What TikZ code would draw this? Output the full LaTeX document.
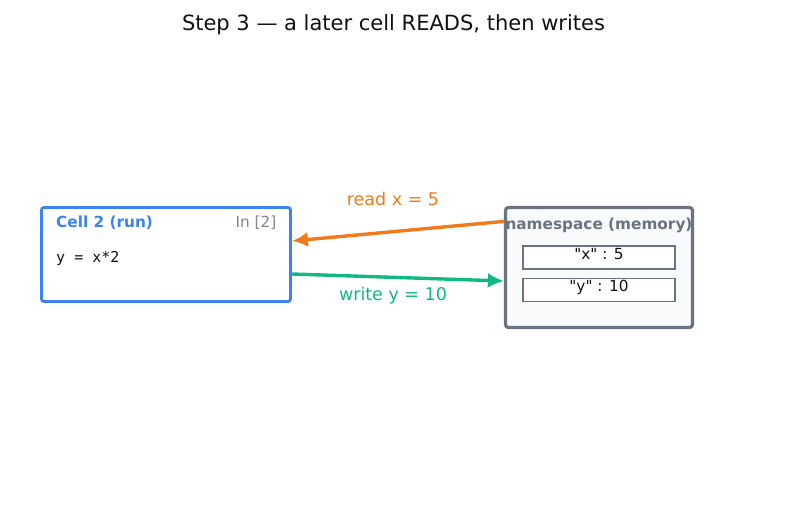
\documentclass[tikz,border=0pt]{standalone}
\usepackage{fontspec}
\setmainfont{DejaVu Sans}
\newfontfamily\codefont{DejaVu Sans Mono}
\newfontfamily\keyfont{DejaVu Sans}
\usetikzlibrary{arrows.meta,positioning,calc}
\definecolor{cellblue}{HTML}{3B82F6}
\definecolor{nsgray}{HTML}{6B7280}
\definecolor{nsfill}{HTML}{F8FAFC}
\definecolor{readorange}{HTML}{F27A1C}
\definecolor{writegreen}{HTML}{10B981}
\definecolor{titleblack}{HTML}{111111}

\begin{document}
\begin{tikzpicture}[x=1pt,y=-1pt,>=Latex,
  cellbox/.style={rounded corners=2.5pt,draw=cellblue,line width=2.8pt,fill=white,
    minimum width=249pt,minimum height=94pt,inner sep=0pt},
  nsbox/.style={rounded corners=3pt,draw=nsgray,line width=3.2pt,fill=nsfill,
    minimum width=187pt,minimum height=120pt,inner sep=0pt},
  slot/.style={draw=nsgray,line width=1.4pt,fill=white,
    minimum width=152pt,minimum height=23pt,inner sep=0pt},
  txt/.style={inner sep=0pt,font=\fontsize{15.3}{18}\selectfont},
  flow/.style={-{Latex[length=16pt,width=15pt]},line width=3.4pt}]
\useasboundingbox (0,0) rectangle (787,508);

% title
\node[txt,font=\fontsize{21}{24}\selectfont,text=titleblack] (title) at (393.5,25) {Step 3 — a later cell READS, then writes};

% the cell
\node[cellbox] (cell) at (166,254.5) {};
\node[txt,anchor=west,text=cellblue,font=\fontsize{15.3}{18}\selectfont\bfseries] (celltitle) at (56,222.5) {Cell 2 (run)};
\node[txt,anchor=east,text=nsgray!85!white] (cellin) at (276.5,222.5) {In [2]};
\node[txt,anchor=west,text=titleblack,font=\fontsize{15}{18}\codefont] (cellcode) at (56,258) {y = x*2};

% the namespace
\node[nsbox] (ns) at (599,267.5) {};
\node[txt,text=nsgray,font=\fontsize{15.3}{18}\selectfont\bfseries] (nstitle) at (599,225.5) {namespace (memory)};
\node[slot] (nsx) at (599,257.5) {};
\node[slot] (nsy) at (599,290) {};
\node[txt,text=titleblack,font=\fontsize{15.3}{18}\keyfont] (nsxtext) at (599,254.5) {"x" : 5};
\node[txt,text=titleblack,font=\fontsize{15.3}{18}\keyfont] (nsytext) at (599,287.5) {"y" : 10};

% read and write
\draw[flow,readorange] ([yshift=-15.5pt]ns.north west) -- ([yshift=13.5pt]cell.east);
\draw[flow,writegreen] ([yshift=-19.5pt]cell.east) -- ([yshift=-13.5pt]ns.west);
\node[txt,text=readorange,font=\fontsize{17.5}{20}\selectfont] (readlbl) at (393,199) {read x = 5};
\node[txt,text=writegreen,font=\fontsize{17.5}{20}\selectfont] (writelbl) at (393,296) {write y = 10};
\end{tikzpicture}
\end{document}
